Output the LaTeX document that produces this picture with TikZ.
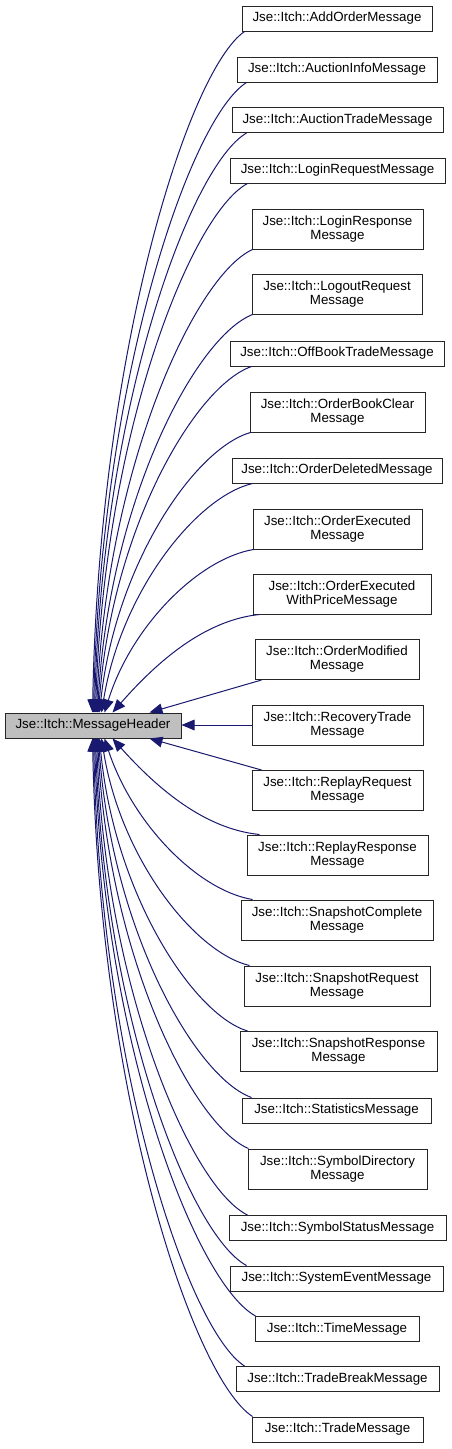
\documentclass[tikz,border=0pt]{standalone}
\usepackage{fontspec}
\setmainfont{Liberation Sans}
\usetikzlibrary{arrows.meta,calc}
\definecolor{edgeblue}{HTML}{191970}
\definecolor{mainfill}{HTML}{BFBFBF}
\tikzset{
  cls/.style={draw=black!85, line width=0.75pt, fill=white, minimum height=18.75pt,
    inner sep=0pt, align=center, font=\fontsize{10}{10.5}\selectfont},
  dbl/.style={minimum height=30pt},
  inhedge/.style={draw=edgeblue, line width=0.75pt, {Triangle[length=9.75pt,width=8pt]}-},
}
% #1 child, #2 start offset (px) from child's south west, #3 tip x (px), #4 bend factor
\newcommand\upedge[4]{\draw[inhedge] let \p1=($(#1.south west)+(#2,0)$), \p2=($(main.north west)+(#3-5,0)$) in
  (\p2) .. controls ({\x2+#4*(\x1-\x2)},{\y2+0.53*(\y1-\y2)}) and ({\x1+0.37*(\x2-\x1)},{\y1+0.057*(\y2-\y1)}) .. (\p1);}
\newcommand\downedge[4]{\draw[inhedge] let \p1=($(#1.north west)+(#2,0)$), \p2=($(main.south west)+(#3-5,0)$) in
  (\p2) .. controls ({\x2+#4*(\x1-\x2)},{\y2+0.53*(\y1-\y2)}) and ({\x1+0.37*(\x2-\x1)},{\y1+0.057*(\y2-\y1)}) .. (\p1);}
\begin{document}
\begin{tikzpicture}[x=0.75pt,y=-0.75pt]
\useasboundingbox (0,0) rectangle (451,1449);
\fill[white] (0,0) rectangle (451,1449);
\node[cls, fill=mainfill, minimum width=176*0.75pt] (main) at (93,725.5) {Jse::Itch::MessageHeader};

\node[cls, minimum width=190*0.75pt] (c1) at (337,18.5) {Jse::Itch::AddOrderMessage};
\node[cls, minimum width=200*0.75pt] (c2) at (337,69.5) {Jse::Itch::AuctionInfoMessage};
\node[cls, minimum width=211*0.75pt] (c3) at (337.5,120) {Jse::Itch::AuctionTradeMessage};
\node[cls, minimum width=215*0.75pt] (c4) at (337.5,170.5) {Jse::Itch::LoginRequestMessage};
\node[cls, dbl, minimum width=171*0.75pt] (c5) at (337.5,229) {Jse::Itch::LoginResponse\\Message};
\node[cls, dbl, minimum width=170*0.75pt] (c6) at (337,294) {Jse::Itch::LogoutRequest\\Message};
\node[cls, minimum width=214*0.75pt] (c7) at (337,353.5) {Jse::Itch::OffBookTradeMessage};
\node[cls, dbl, minimum width=175*0.75pt] (c8) at (337.5,412) {Jse::Itch::OrderBookClear\\Message};
\node[cls, minimum width=210*0.75pt] (c9) at (337,470.5) {Jse::Itch::OrderDeletedMessage};
\node[cls, dbl, minimum width=169*0.75pt] (c10) at (337.5,529) {Jse::Itch::OrderExecuted\\Message};
\node[cls, dbl, minimum width=178*0.75pt] (c11) at (342,594) {Jse::Itch::OrderExecuted\\WithPriceMessage};
\node[cls, dbl, minimum width=164*0.75pt] (c12) at (337,659.5) {Jse::Itch::OrderModified\\Message};
\node[cls, dbl, minimum width=171*0.75pt] (c13) at (337.5,725) {Jse::Itch::RecoveryTrade\\Message};
\node[cls, dbl, minimum width=171*0.75pt] (c14) at (337.5,790.5) {Jse::Itch::ReplayRequest\\Message};
\node[cls, dbl, minimum width=181*0.75pt] (c15) at (337.5,855) {Jse::Itch::ReplayResponse\\Message};
\node[cls, dbl, minimum width=192*0.75pt] (c16) at (337,920) {Jse::Itch::SnapshotComplete\\Message};
\node[cls, dbl, minimum width=186*0.75pt] (c17) at (337,986) {Jse::Itch::SnapshotRequest\\Message};
\node[cls, dbl, minimum width=197*0.75pt] (c18) at (338.5,1051.5) {Jse::Itch::SnapshotResponse\\Message};
\node[cls, minimum width=189*0.75pt] (c19) at (336.5,1110.5) {Jse::Itch::StatisticsMessage};
\node[cls, dbl, minimum width=179*0.75pt] (c20) at (337.5,1169) {Jse::Itch::SymbolDirectory\\Message};
\node[cls, minimum width=217*0.75pt] (c21) at (337.5,1228) {Jse::Itch::SymbolStatusMessage};
\node[cls, minimum width=213*0.75pt] (c22) at (336.5,1278.5) {Jse::Itch::SystemEventMessage};
\node[cls, minimum width=164*0.75pt] (c23) at (337,1329) {Jse::Itch::TimeMessage};
\node[cls, minimum width=203*0.75pt] (c24) at (337.5,1379) {Jse::Itch::TradeBreakMessage};
\node[cls, minimum width=171*0.75pt] (c25) at (337.5,1429.5) {Jse::Itch::TradeMessage};

\upedge{c1}{3}{93}{0.044}
\upedge{c2}{10}{94}{0.048}
\upedge{c3}{15}{95}{0.052}
\upedge{c4}{18}{96}{0.057}
\upedge{c5}{1}{97}{0.065}
\upedge{c6}{1}{98}{0.075}
\upedge{c7}{22}{99}{0.087}
\upedge{c8}{1}{100}{0.107}
\upedge{c9}{21}{102}{0.131}
\upedge{c10}{1}{105}{0.18}
\upedge{c11}{7}{113}{0.31}
\draw[inhedge] ($(main.north west)+(145,0)$) -- ($(c12.south west)+(7,0)$);
\draw[inhedge] (main.east |- c13.west) -- (c13.west);
\draw[inhedge] ($(main.south west)+(145,0)$) -- ($(c14.north west)+(10,0)$);
\downedge{c15}{13}{113}{0.31}
\downedge{c16}{12}{105}{0.19}
\downedge{c17}{6}{102}{0.13}
\downedge{c18}{8}{100}{0.10}
\downedge{c19}{10}{99}{0.084}
\downedge{c20}{1}{98}{0.073}
\downedge{c21}{19}{97}{0.063}
\downedge{c22}{17}{96}{0.057}
\downedge{c23}{1}{95}{0.052}
\downedge{c24}{9}{94}{0.048}
\downedge{c25}{1}{93}{0.044}
\end{tikzpicture}
\end{document}
